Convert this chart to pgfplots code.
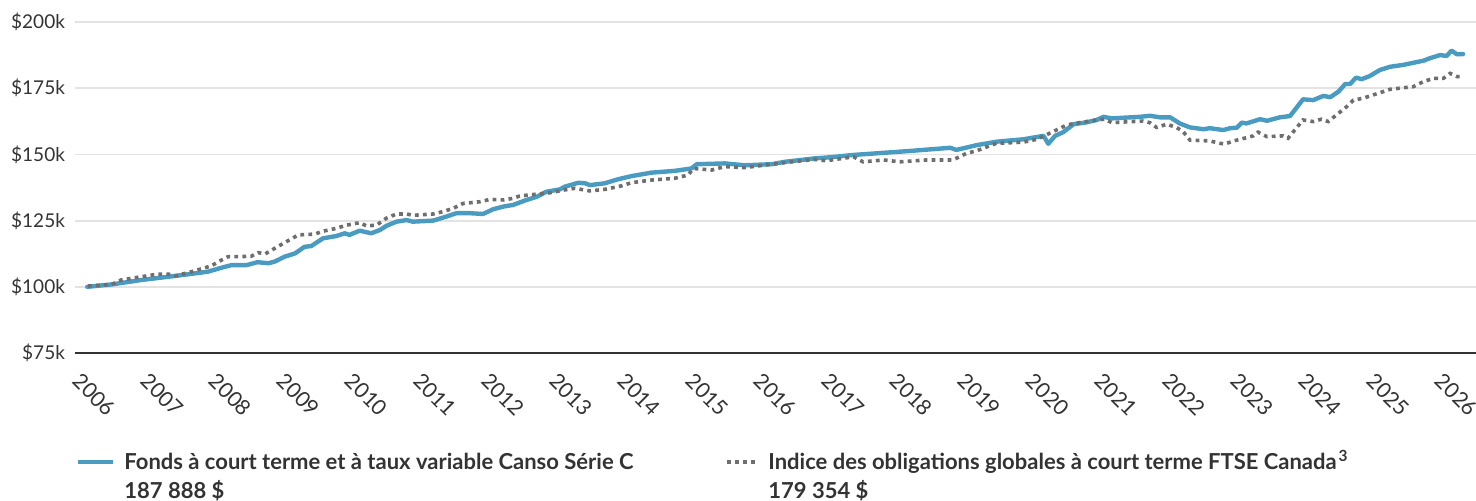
\documentclass[border=0pt]{standalone}
\usepackage{fontspec}
\setmainfont{Lato}
\usepackage{pgfplots}
\pgfplotsset{compat=1.18}
\definecolor{fundblue}{HTML}{4A9BC1}
\definecolor{idxgray}{HTML}{6E6E6E}
\definecolor{txt}{HTML}{333333}
\definecolor{gridc}{HTML}{E3E3E3}
\begin{document}
\begin{tikzpicture}
\path[use as bounding box] (-37.5pt,-73.5pt) rectangle (700.5pt,176.5pt);
\begin{axis}[
  at={(0,0)}, anchor=south west,
  scale only axis, width=700.5pt, height=165.5pt,
  xmin=2005.93, xmax=2026.5, ymin=75, ymax=200,
  axis x line*=bottom, axis y line*=left,
  x axis line style={-, draw=txt, line width=1.4pt},
  y axis line style={draw=none},
  tick style={draw=none},
  ytick={75,100,125,150,175,200},
  yticklabels={\$75k,\$100k,\$125k,\$150k,\$175k,\$200k},
  ymajorgrids, grid style={draw=gridc, line width=0.9pt},
  xtick={2006,2007,2008,2009,2010,2011,2012,2013,2014,2015,2016,2017,2018,2019,2020,2021,2022,2023,2024,2025,2026},
  xticklabels={2006,2007,2008,2009,2010,2011,2012,2013,2014,2015,2016,2017,2018,2019,2020,2021,2022,2023,2024,2025,2026},
  yticklabel style={font=\fontsize{9.5}{11}\selectfont, text=txt, xshift=-1.5pt},
  xticklabel style={font=\fontsize{10.6}{13}\selectfont, text=txt, rotate=-45, anchor=north west, inner sep=1pt, yshift=-4.6pt, xshift=6.4pt},
  clip=false,
]
\addplot[fundblue, line width=2.2pt, line join=round, line cap=round] coordinates {
(2006.11,100.0) (2006.47,100.9) (2006.91,102.6) (2007.40,104.1) (2007.88,105.7)
(2008.08,107.2) (2008.23,108.2) (2008.45,108.2) (2008.61,109.3) (2008.77,108.9)
(2008.86,109.5) (2009.01,111.4) (2009.16,112.6) (2009.30,115.1) (2009.40,115.4)
(2009.57,118.3) (2009.77,119.2) (2009.89,120.2) (2009.96,119.6) (2010.11,121.2)
(2010.28,120.2) (2010.41,121.5) (2010.50,123.0) (2010.65,124.6) (2010.80,125.2)
(2010.89,124.6) (2011.19,125.0) (2011.38,126.5) (2011.53,127.8) (2011.73,127.8)
(2011.92,127.5) (2012.07,129.3) (2012.22,130.3) (2012.36,130.9) (2012.56,132.8)
(2012.71,134.0) (2012.85,135.9) (2013.05,136.8) (2013.12,137.8) (2013.32,139.3)
(2013.42,139.1) (2013.49,138.4) (2013.71,139.1) (2013.90,140.6) (2014.10,141.8)
(2014.39,143.1) (2014.74,143.8) (2014.98,144.7) (2015.06,146.3) (2015.47,146.6)
(2015.76,145.9) (2016.16,146.3) (2016.35,147.2) (2016.79,148.5) (2017.01,148.9)
(2017.36,149.8) (2018.19,151.3) (2018.78,152.5) (2018.87,151.7) (2019.17,153.5)
(2019.46,154.8) (2019.85,155.7) (2020.15,157.0) (2020.22,154.0) (2020.32,157.0)
(2020.44,158.4) (2020.59,161.4) (2020.78,162.1) (2020.93,163.0) (2021.03,164.2)
(2021.15,163.6) (2021.57,164.2) (2021.71,164.6) (2021.86,164.0) (2022.01,164.0)
(2022.15,161.7) (2022.30,160.2) (2022.50,159.5) (2022.59,159.9) (2022.79,159.2)
(2022.89,159.9) (2022.99,160.1) (2023.06,162.0) (2023.13,161.7) (2023.33,163.3)
(2023.43,162.7) (2023.62,164.0) (2023.77,164.5) (2023.96,170.8) (2024.11,170.5)
(2024.26,172.1) (2024.36,171.6) (2024.48,173.7) (2024.58,176.6) (2024.65,176.6)
(2024.74,179.0) (2024.82,178.4) (2024.94,179.6) (2025.09,181.9) (2025.24,183.1)
(2025.43,183.8) (2025.58,184.6) (2025.73,185.4) (2025.82,186.3) (2025.97,187.5)
(2026.07,187.2) (2026.14,189.2) (2026.22,187.8) (2026.31,187.9)
};
\addplot[idxgray, line width=1.8pt, dash pattern=on 1.9pt off 2.1pt] coordinates {
(2006.12,100.3) (2006.47,100.9) (2006.61,102.6) (2007.15,104.8) (2007.30,104.8)
(2007.40,104.1) (2007.64,105.7) (2007.93,107.9) (2008.08,110.1) (2008.18,111.4)
(2008.37,111.4) (2008.52,111.6) (2008.62,112.9) (2008.72,112.4) (2008.86,114.5)
(2009.01,116.7) (2009.21,119.6) (2009.45,119.9) (2009.57,121.0) (2009.77,122.1)
(2009.92,123.3) (2010.11,124.2) (2010.21,123.0) (2010.36,123.3) (2010.50,125.9)
(2010.65,127.5) (2010.80,127.5) (2010.89,127.0) (2011.19,127.5) (2011.33,128.4)
(2011.48,129.6) (2011.63,131.5) (2011.87,132.1) (2012.02,133.0) (2012.22,132.8)
(2012.36,133.4) (2012.46,134.3) (2012.71,135.0) (2012.90,135.5) (2013.12,136.6)
(2013.27,137.2) (2013.49,136.2) (2013.71,136.8) (2013.95,138.1) (2014.10,139.3)
(2014.39,140.3) (2014.74,141.0) (2014.93,142.2) (2015.01,144.7) (2015.28,144.1)
(2015.47,145.4) (2015.76,145.0) (2016.16,146.3) (2016.45,147.2) (2016.79,148.1)
(2016.96,147.6) (2017.36,149.1) (2017.50,147.2) (2017.80,147.9) (2018.04,147.2)
(2018.43,147.9) (2018.82,147.9) (2019.02,150.4) (2019.17,151.4) (2019.46,154.2)
(2019.85,154.6) (2020.05,155.7) (2020.20,157.5) (2020.29,158.6) (2020.49,161.1)
(2020.68,162.0) (2020.93,163.0) (2021.05,163.3) (2021.15,162.0) (2021.61,162.6)
(2021.71,162.0) (2021.81,160.2) (2021.96,161.4) (2022.10,160.2) (2022.20,158.6)
(2022.30,155.4) (2022.59,155.1) (2022.74,154.2) (2022.81,153.9) (2022.94,155.1)
(2023.13,156.3) (2023.23,157.0) (2023.30,158.4) (2023.43,156.7) (2023.67,157.0)
(2023.74,156.1) (2023.96,163.0) (2024.11,162.4) (2024.23,163.3) (2024.33,162.4)
(2024.60,168.0) (2024.70,170.5) (2024.84,171.2) (2025.09,173.3) (2025.24,174.6)
(2025.58,175.6) (2025.73,177.5) (2025.87,178.7) (2026.02,178.7) (2026.12,180.6)
(2026.22,179.4) (2026.31,179.4)
};
\end{axis}
% legend
\draw[fundblue, line width=2.4pt] (1.5pt,-54.5pt) -- (19pt,-54.5pt);
\node[anchor=base west, inner sep=0pt, text=txt, font=\fontsize{11}{13}\selectfont\bfseries] at (24.5pt,-58pt) {Fonds à court terme et à taux variable Canso Série C};
\node[anchor=base west, inner sep=0pt, text=txt, font=\fontsize{11}{13}\selectfont\bfseries] at (24.5pt,-72.5pt) {187 888 \$};
\draw[idxgray, line width=1.8pt, dash pattern=on 1.9pt off 2.1pt] (326pt,-54.5pt) -- (340pt,-54.5pt);
\node[anchor=base west, inner sep=0pt, text=txt, font=\fontsize{11}{13}\selectfont\bfseries] at (346.5pt,-58pt) {Indice des obligations globales à court terme FTSE Canada\kern1pt\textsuperscript{3}};
\node[anchor=base west, inner sep=0pt, text=txt, font=\fontsize{11}{13}\selectfont\bfseries] at (346.5pt,-72.5pt) {179 354 \$};
\end{tikzpicture}
\end{document}
